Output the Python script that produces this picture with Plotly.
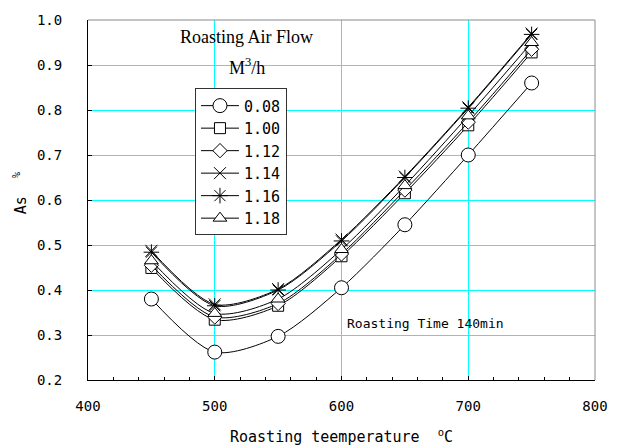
import plotly.graph_objects as go

# Roasting temperature (°C)
temperature = [450, 500, 550, 600, 650, 700, 750]

# Residual As (%) for each roasting air flow (M3/h)
as_008 = [0.380, 0.262, 0.297, 0.405, 0.545, 0.700, 0.860]
as_100 = [0.449, 0.334, 0.365, 0.475, 0.615, 0.766, 0.928]
as_112 = [0.455, 0.340, 0.370, 0.480, 0.622, 0.773, 0.935]
as_114 = [0.487, 0.368, 0.402, 0.512, 0.652, 0.806, 0.970]
as_116 = [0.484, 0.365, 0.400, 0.509, 0.650, 0.804, 0.968]
as_118 = [0.465, 0.348, 0.380, 0.490, 0.632, 0.787, 0.950]

series_names = ["0.08", "1.00", "1.12", "1.14", "1.16", "1.18"]
series_values = [as_008, as_100, as_112, as_114, as_116, as_118]
series_symbols = ["circle", "square", "diamond", "x-thin", "asterisk", "triangle-up"]
series_sizes = [14, 11, 11, 12, 13, 12]

x_ticks = [400, 500, 600, 700, 800]
y_ticks = [0.2, 0.3, 0.4, 0.5, 0.6, 0.7, 0.8, 0.9, 1.0]

MONO = "DejaVu Sans Mono"
SERIF = "Liberation Serif"

fig = go.Figure()

for name, vals, sym, size in zip(series_names, series_values, series_symbols, series_sizes):
    fig.add_trace(go.Scatter(
        x=temperature, y=vals, name=name,
        mode="lines+markers",
        line=dict(color="black", width=1, shape="spline", smoothing=0.8),
        marker=dict(symbol=sym, size=size, color="white",
                    line=dict(color="black", width=1)),
    ))

fig.update_layout(
    width=620, height=447,
    margin=dict(l=88, r=21, t=17, b=67),
    paper_bgcolor="white", plot_bgcolor="white",
    font=dict(family=MONO, size=14, color="black"),
    showlegend=True,
    legend=dict(
        x=0.211, y=0.81, xanchor="left", yanchor="top",
        bgcolor="white", bordercolor="#333333", borderwidth=1,
        font=dict(family=MONO, size=15, color="black"),
        tracegroupgap=0, itemwidth=38,
    ),
)

fig.update_xaxes(
    range=[400, 800], tickvals=x_ticks, ticktext=[str(v) for v in x_ticks],
    showgrid=True, gridcolor="#00FFFF", gridwidth=1,
    showline=True, linecolor="black", linewidth=1,
    ticks="inside", ticklen=4, tickcolor="black",
    minor=dict(dtick=20, ticks="inside", ticklen=3, tickcolor="black", showgrid=False),
    ticklabelstandoff=13,
    zeroline=False,
    tickfont=dict(family=MONO, size=14),
)
fig.update_yaxes(
    range=[0.2, 1.0], tickvals=y_ticks, ticktext=[f"{v:.1f}" for v in y_ticks],
    showgrid=True, gridcolor="#00FFFF", gridwidth=1,
    showline=True, linecolor="black", linewidth=1,
    ticks="inside", ticklen=4, tickcolor="black",
    ticklabelstandoff=22,
    zeroline=False,
    tickfont=dict(family=MONO, size=14),
)

# grey top and right frame
fig.add_shape(type="line", xref="paper", yref="paper", x0=0, x1=1, y0=1, y1=1,
              line=dict(color="#8a8a8a", width=1))
fig.add_shape(type="line", xref="paper", yref="paper", x0=1, x1=1, y0=0, y1=1,
              line=dict(color="#8a8a8a", width=1))

# white panel behind the air-flow heading
fig.add_shape(type="rect", xref="paper", yref="paper", x0=0.170, x1=0.454, y0=0.826, y1=0.998,
              fillcolor="white", line=dict(width=0), layer="between")

fig.add_annotation(text="Roasting Air Flow", xref="paper", yref="paper",
                   x=0.313, y=0.952, xanchor="center", yanchor="middle", showarrow=False,
                   font=dict(family=SERIF, size=18, color="black"))
fig.add_annotation(text="M<sup>3</sup>/h", xref="paper", yref="paper",
                   x=0.313, y=0.872, xanchor="center", yanchor="middle", showarrow=False,
                   font=dict(family=SERIF, size=18, color="black"))

fig.add_annotation(text="Roasting Time 140min", x=666, y=0.326, showarrow=False,
                   xanchor="center", yanchor="middle",
                   font=dict(family=MONO, size=13, color="black"))

# axis titles
fig.add_annotation(text="Roasting teemperature  <sup>o</sup>C", xref="paper", yref="paper",
                   x=0.5, y=-0.155, showarrow=False, xanchor="center", yanchor="middle",
                   font=dict(family=MONO, size=15, color="black"))
fig.add_annotation(text="As  <sup>%</sup>", xref="paper", yref="paper",
                   x=-0.135, y=0.52, showarrow=False, textangle=-90,
                   xanchor="center", yanchor="middle",
                   font=dict(family=MONO, size=15, color="black"))

fig.write_html("out.html")
